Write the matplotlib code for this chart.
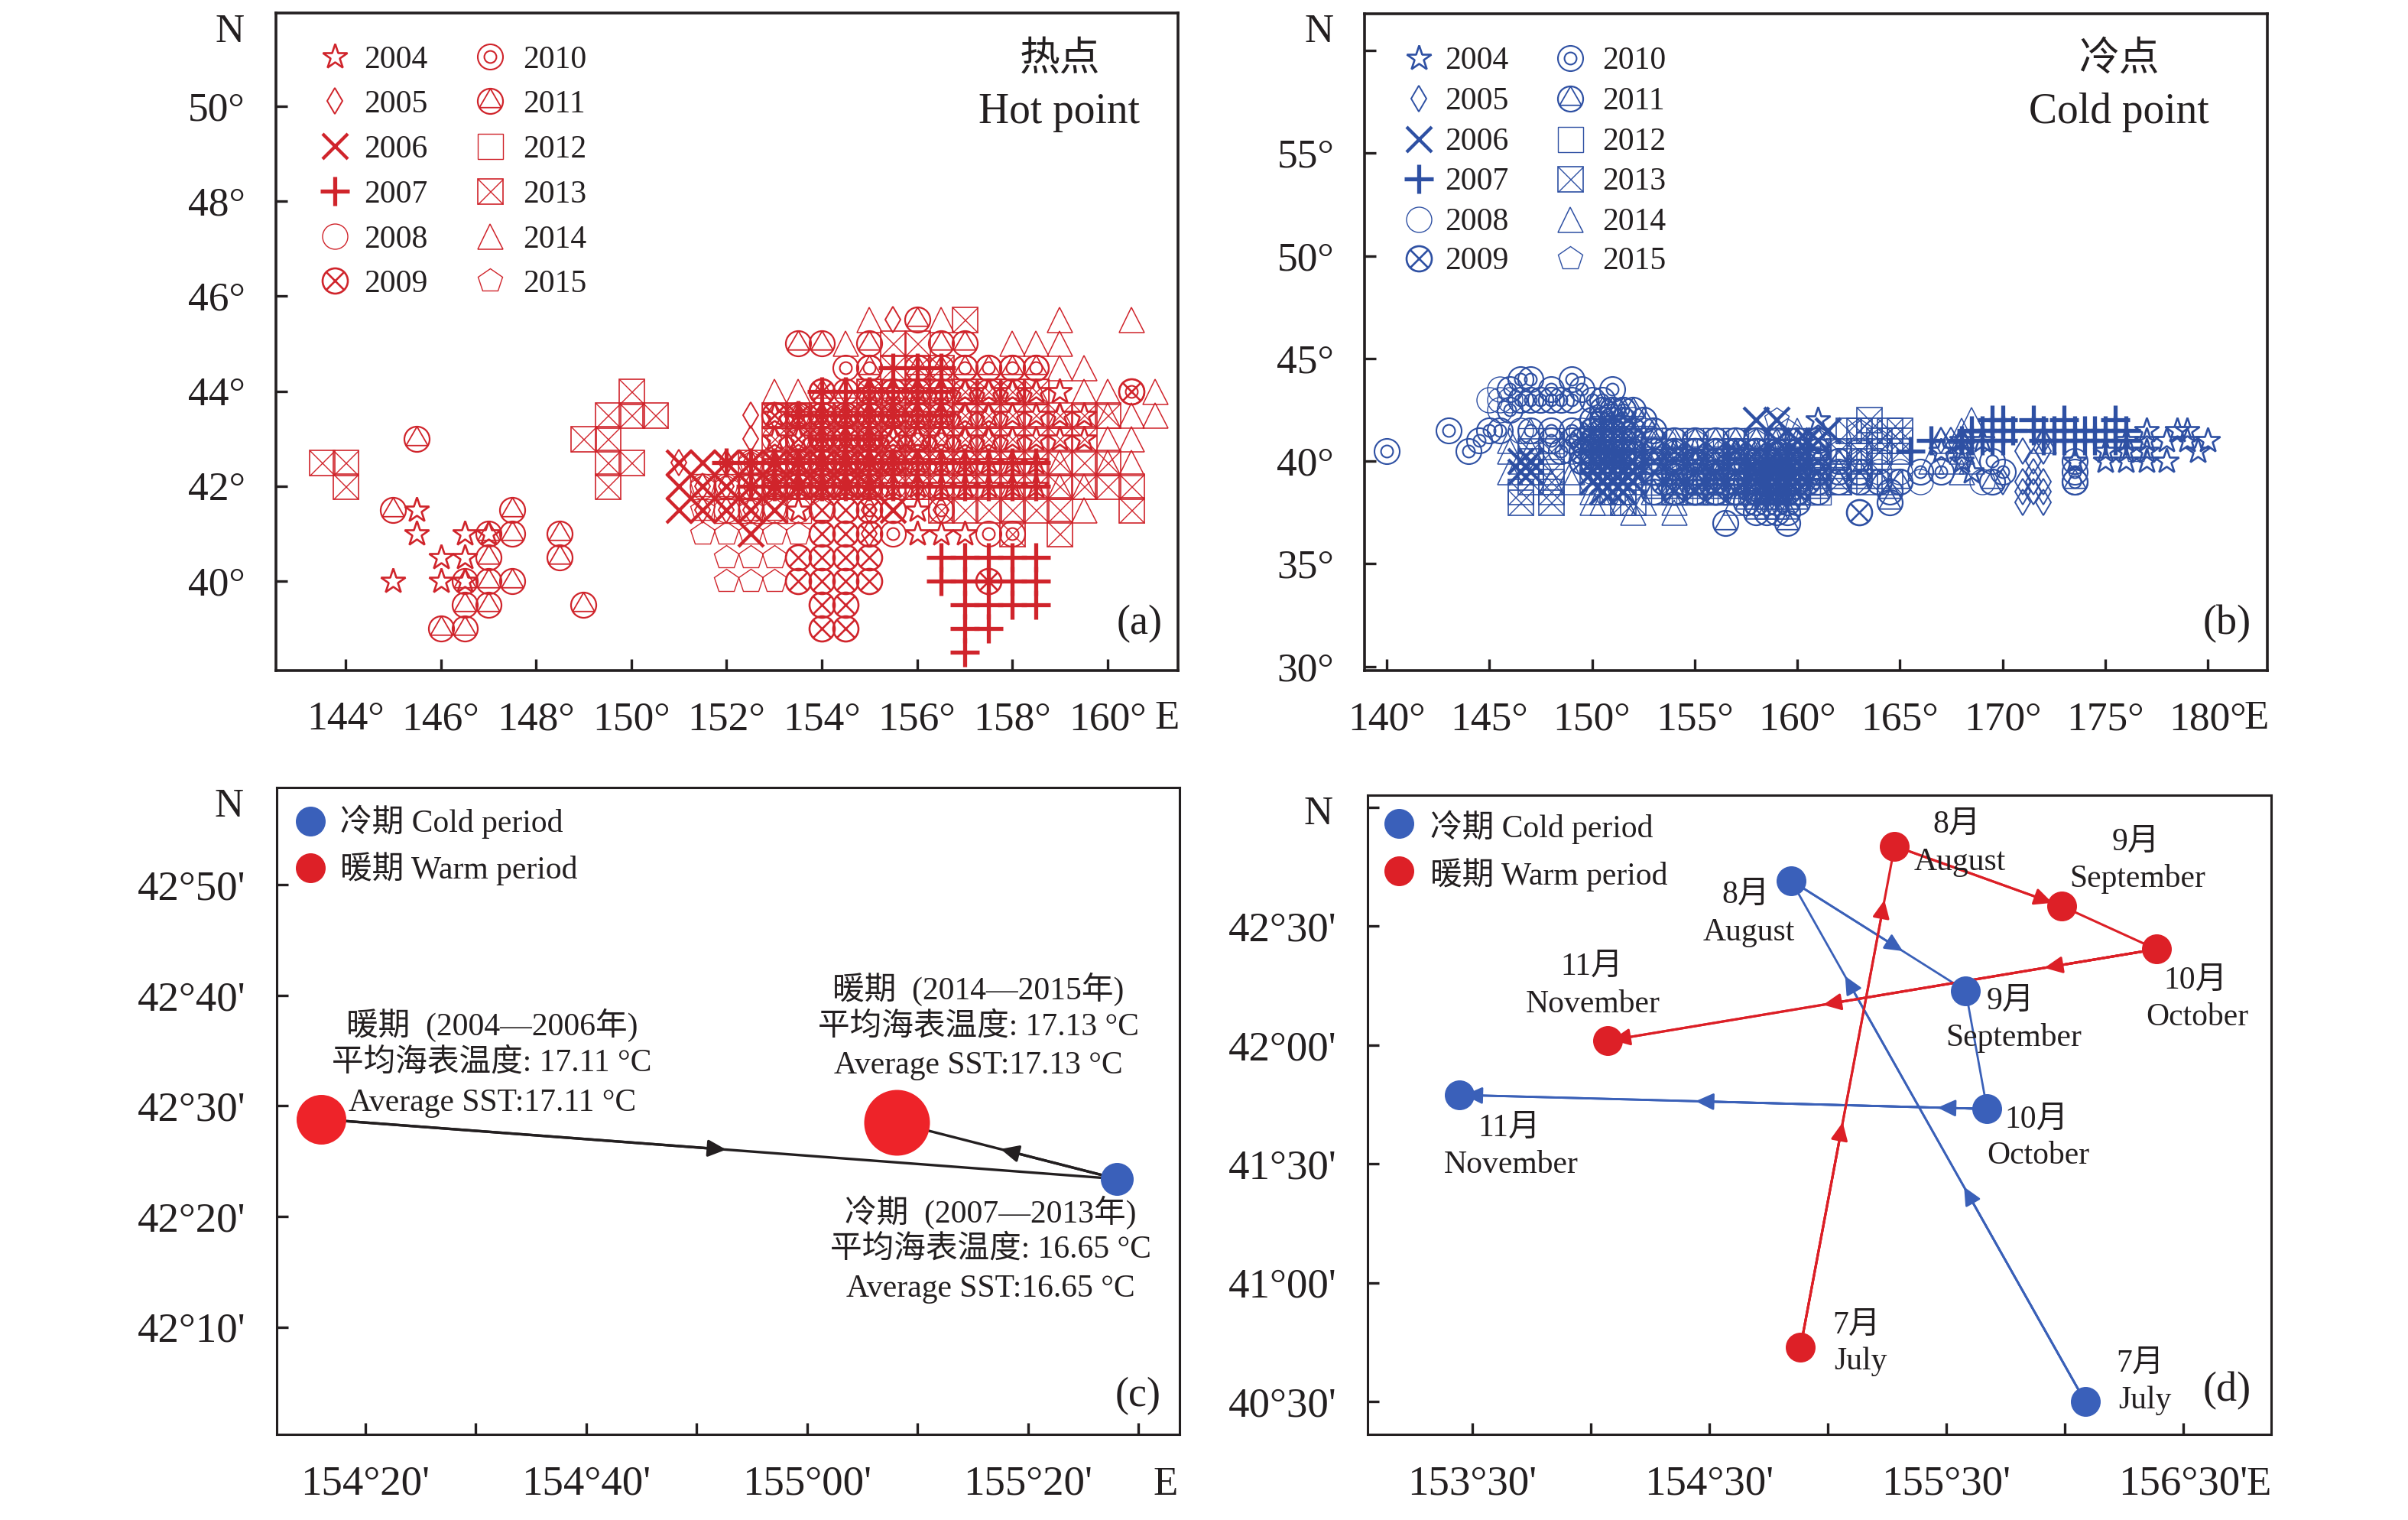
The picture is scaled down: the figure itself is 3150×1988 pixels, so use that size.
import matplotlib
matplotlib.use("Agg")
import matplotlib.pyplot as plt
from matplotlib.path import Path

W, H = 3150, 1988
FONT = ['Liberation Serif', 'Noto Sans CJK SC']
plt.rcParams['font.family'] = FONT
plt.rcParams['axes.unicode_minus'] = False

RED = '#d0242b'
BLUE = '#2e50a3'
LINE_RED = '#dc1f26'
LINE_BLUE = '#3a60b8'
DOT_BLUE = '#3a60ba'
DOT_RED = '#dd2027'
BIG_RED = '#ee2329'
INK = '#231f20'

YEARS = [2004, 2005, 2006, 2007, 2008, 2009, 2010, 2011, 2012, 2013, 2014, 2015]

# ---- panel (a): hot points, latitude -> longitudes per year ----
hot_2004 = {44: [155, 155.5, 156, 156.5, 157, 157.5, 158, 158.5, 159],
            43.5: [153, 153.5, 154, 154.5, 155, 155.5, 156, 156.5, 157, 157.5, 158, 158.5, 159, 159.5],
            43: [153, 153.5, 154, 154.5, 155, 155.5, 156, 156.5, 157, 157.5, 158, 158.5, 159, 159.5],
            42.5: [153, 153.5, 154, 154.5, 155, 155.5, 156, 156.5, 157, 157.5, 158, 158.5],
            42: [153, 153.5, 154, 154.5, 155, 155.5, 156, 156.5, 157, 157.5, 158, 158.5],
            41.5: [145.5, 153.5, 156],
            41: [145.5, 146.5, 147, 156, 156.5, 157],
            40.5: [146, 146.5],
            40: [145, 146, 146.5]}
hot_2005 = {45.5: [155.5],
            44: [154.5, 155, 155.5, 156, 156.5],
            43.5: [152.5, 153, 153.5, 154, 154.5, 155, 155.5, 156, 156.5, 157, 157.5],
            43: [152.5, 153, 153.5, 154, 154.5, 155, 155.5, 156, 156.5, 157, 157.5],
            42.5: [151, 152, 152.5, 153, 153.5, 154, 154.5, 155, 155.5, 156, 156.5],
            42: [151.5, 152, 152.5, 153, 153.5, 154, 154.5, 155, 155.5, 156],
            41.5: [151.5, 152, 152.5, 155, 156.5],
            41: [155]}
hot_2006 = {42.5: [151, 151.5, 152, 152.5, 153, 153.5, 154, 154.5, 155],
            42: [151, 151.5, 152, 152.5, 153, 153.5, 154, 154.5, 155],
            41.5: [151, 151.5, 152, 152.5, 153, 155.5],
            41: [152.5]}
hot_2007 = {44.5: [155.5, 156, 156.5],
            44: [154, 154.5, 155, 155.5, 156, 156.5],
            43.5: [153.5, 154, 154.5, 155, 155.5, 156, 156.5],
            43: [154, 154.5, 155],
            42.5: [152, 152.5, 153, 153.5, 154, 154.5, 155, 155.5, 156, 156.5, 157, 157.5, 158, 158.5],
            42: [152.5, 153, 153.5, 154, 154.5, 155, 155.5, 156, 156.5, 157, 157.5, 158, 158.5],
            40.5: [156.5, 157, 157.5, 158, 158.5],
            40: [156.5, 157, 157.5, 158, 158.5],
            39.5: [157, 157.5, 158, 158.5],
            39: [157, 157.5],
            38.5: [157]}
hot_2008 = {44: [154, 154.5, 155, 155.5],
            43.5: [153, 153.5, 154, 154.5, 155, 155.5, 156, 156.5],
            43: [153, 153.5, 154, 154.5, 155, 155.5, 156],
            42.5: [152.5, 153, 153.5, 154, 154.5, 155, 155.5, 156, 156.5, 157, 157.5],
            42: [151.5, 152, 152.5, 153, 153.5, 154, 154.5, 155, 155.5, 156, 156.5, 157],
            41.5: [152, 152.5, 153, 153.5, 154, 154.5]}
hot_2009 = {44: [160.5, 154],
            43.5: [153, 153.5, 154, 154.5, 155, 155.5],
            43: [153.5, 154, 154.5, 155, 155.5],
            42.5: [153.5, 154, 154.5, 155, 155.5],
            42: [153, 153.5, 154, 154.5, 155],
            41.5: [154, 154.5, 155, 155.5],
            41: [154, 154.5, 155],
            40.5: [153.5, 154, 154.5, 155],
            40: [153.5, 154, 154.5, 155, 157.5],
            39.5: [154, 154.5],
            39: [154, 154.5]}
hot_2010 = {44.5: [154.5, 155, 157, 157.5, 158, 158.5],
            44: [155, 155.5, 156, 160.5],
            43.5: [154, 155, 156],
            43: [154.5, 155, 156, 156.5],
            42.5: [154, 155.5, 157],
            41.5: [155, 156.5],
            41: [155.5, 157.5, 158]}
hot_2011 = {45.5: [156],
            45: [153.5, 154, 155, 156.5, 157],
            44.5: [155, 156, 156.5, 157, 157.5, 158, 158.5],
            44: [154, 154.5, 155, 155.5, 156, 156.5, 157, 157.5, 158],
            43.5: [154, 154.5, 155, 155.5, 156, 156.5],
            43: [145.5, 154, 154.5, 155, 155.5, 156],
            42.5: [154, 154.5, 155, 155.5, 156],
            41.5: [145, 147.5],
            41: [147, 147.5, 148.5],
            40.5: [147, 148.5],
            40: [146.5, 147, 147.5],
            39.5: [146.5, 147, 149],
            39: [146, 146.5]}
hot_2012 = {44: [155, 155.5, 156, 156.5, 157, 157.5, 158, 158.5],
            43.5: [153, 153.5, 154, 156, 157],
            42: [151.5, 152, 152.5],
            41.5: [152, 152.5, 153, 153.5]}
hot_2013 = {45.5: [157],
            45: [155.5, 156],
            44.5: [155.5, 156, 156.5],
            44: [150, 155, 156, 157, 157.5, 158, 158.5],
            43.5: [149.5, 150, 150.5, 153, 153.5, 154, 154.5, 155, 155.5, 156, 156.5, 157, 157.5, 158, 158.5, 159, 159.5, 160],
            43: [149, 149.5, 153, 153.5, 154, 154.5, 155, 155.5, 156, 156.5, 157, 157.5, 158, 158.5, 159, 159.5],
            42.5: [143.5, 144, 149.5, 150, 152.5, 153, 153.5, 154, 154.5, 155, 155.5, 156, 156.5, 157, 157.5, 158, 158.5, 159, 159.5, 160],
            42: [144, 149.5, 152.5, 153, 153.5, 154, 154.5, 155, 155.5, 156, 156.5, 157, 157.5, 158, 158.5, 159, 159.5, 160, 160.5],
            41.5: [156.5, 157, 157.5, 158, 158.5, 159, 160.5],
            41: [158, 159]}
hot_2014 = {45.5: [155, 156.5, 159, 160.5],
            45: [154.5, 158, 158.5, 159],
            44.5: [159, 159.5],
            44: [153, 153.5, 157, 157.5, 158, 158.5, 159.5, 160, 161],
            43.5: [156, 156.5, 157, 157.5, 158, 159, 160, 160.5, 161],
            43: [155.5, 156, 156.5, 157, 157.5, 158, 160, 160.5],
            42.5: [155, 155.5, 156, 157, 158, 159, 160, 160.5],
            42: [153.5, 154.5, 156, 158, 159, 159.5],
            41.5: [159.5]}
hot_2015 = {43.5: [153.5, 154.5, 155.5],
            43: [153.5, 154, 155, 156],
            42.5: [152.5, 153.5, 154.5, 155.5],
            42: [151.5, 152, 153, 154, 155],
            41.5: [151.5, 152.5, 153, 154],
            41: [151.5, 152, 152.5, 153, 153.5],
            40.5: [152, 152.5, 153],
            40: [152, 152.5, 153]}

# ---- panel (b): cold points, latitude -> longitudes per year ----
cold_2004 = {42: [161],
             41.5: [177, 178.5, 179],
             41: [168, 169, 176, 177, 178, 179, 180],
             40.5: [154, 157, 160, 167, 168, 175, 176, 177, 179.5],
             40: [155, 159, 168, 173.5, 175, 176, 177, 178],
             39.5: [156, 158, 168.5]}
cold_2005 = {41: [167, 167.5, 168, 172],
             40.5: [159, 160, 171, 172],
             40: [153, 155, 157, 160, 161, 171.5],
             39.5: [154, 156, 158, 159, 161, 171.5],
             39: [155, 157, 159, 160, 170, 171, 171.5, 172],
             38.5: [171, 171.5, 172],
             38: [171, 172]}
cold_2006 = {42: [158, 159],
             41.5: [161.5],
             41: [159, 160, 160.5, 161],
             40: [146.5, 147, 150, 150.5, 151, 151.5, 152],
             39.5: [146.5, 147, 150, 150.5, 151, 151.5, 152, 158, 158.5, 159, 159.5, 160],
             39: [150, 150.5, 151, 151.5, 152, 158, 158.5, 159, 159.5],
             38.5: [150.5, 151, 151.5, 158.5, 159]}
cold_2007 = {42: [169.5, 170, 171.5, 173, 175.5],
             41.5: [168.5, 169, 169.5, 170, 170.5, 171.5, 172, 172.5, 173, 173.5, 174, 174.5, 175, 175.5, 176],
             41: [166.5, 168, 168.5, 169, 169.5, 170, 172, 172.5, 173, 173.5, 174, 174.5, 175, 175.5, 176],
             40.5: [165.5]}
cold_2008 = {43.5: [145.5],
             43: [145, 145.5, 146, 146.5, 147, 147.5, 148],
             42.5: [145.5, 146, 150.5, 151, 151.5],
             42: [150, 150.5, 151, 151.5, 152, 152.5],
             41.5: [146.5, 149.5, 150, 150.5, 151, 151.5, 152, 152.5, 153],
             41: [149, 149.5, 150, 150.5, 151, 151.5, 152, 152.5, 153, 153.5, 154, 155, 156],
             40.5: [149, 150, 151, 152, 153.5, 155, 156.5, 157, 157.5, 158, 158.5, 159, 160, 162, 163, 164],
             40: [149.5, 150.5, 154, 155.5, 157, 157.5, 158, 158.5, 159, 159.5, 162, 163, 164],
             39.5: [150, 151, 152, 154, 155, 156, 157, 158, 158.5, 159, 160, 163, 164, 165, 166, 167],
             39: [155, 157, 158, 159, 160, 161, 162, 163, 164, 165, 166, 169]}
cold_2009 = {42: [150.5, 151],
             41.5: [150, 150.5, 151, 151.5],
             41: [149.5, 150, 150.5, 151, 151.5, 152],
             40.5: [149.5, 150, 150.5, 151, 151.5, 152, 153, 154, 155, 156, 157, 158, 159, 160],
             40: [149.5, 150, 150.5, 151, 151.5, 152, 153, 154, 155, 156, 157, 158, 158.5, 159, 159.5, 160, 161],
             39.5: [150.5, 151, 151.5, 153, 154, 155, 156, 157, 158, 158.5, 159, 159.5, 160, 161],
             39: [153.5, 154.5, 155.5, 156.5, 157.5, 158, 158.5, 159, 159.5, 160.5],
             38.5: [154, 155, 156, 157, 158, 158.5, 159, 159.5, 160],
             37.5: [163]}
cold_2010 = {44: [146.5, 147, 149],
             43.5: [146, 148, 149.5, 151],
             43: [146.5, 147, 147.5, 148, 148.5, 149, 150, 150.5],
             42.5: [146, 151, 151.5],
             41.5: [143, 145, 145.5, 147, 148, 149],
             41: [144.5, 148, 149, 150],
             40.5: [140, 144, 148.5, 150.5, 151],
             40: [158, 159, 160, 169.5, 173.5],
             39.5: [166, 167, 170, 173.5],
             39: [173.5]}
cold_2011 = {42.5: [150.5, 151, 151.5, 152],
             42: [150, 151.5, 152.5],
             41.5: [150, 151, 152, 153],
             41: [153, 154, 155, 156, 157, 158, 159, 160, 161],
             40.5: [157, 158, 159, 160, 161],
             40: [158, 159, 160, 161, 162],
             39.5: [157, 158, 159, 160, 161, 162, 163],
             39: [155, 156, 157, 158, 159, 160, 161, 162, 163, 164, 165, 169.5, 173.5],
             38.5: [153, 154, 155, 156, 157, 158, 159, 160, 161, 164.5],
             38: [157.5, 158, 158.5, 159, 159.5, 160, 164.5],
             37.5: [158, 158.5, 159, 159.5],
             37: [156.5, 159.5]}
cold_2012 = {41: [147, 148, 153, 154, 155, 156, 157, 158, 159, 160],
             40.5: [153, 153.5, 154, 154.5, 155, 155.5, 156, 156.5, 157, 157.5, 158, 158.5, 159, 159.5, 160, 160.5, 161],
             40: [153, 153.5, 154, 154.5, 155, 155.5, 156, 156.5, 157, 157.5, 158, 158.5, 159, 159.5, 160, 160.5, 161],
             39.5: [153, 153.5, 154, 154.5, 155, 155.5, 156, 156.5, 157, 157.5, 158, 158.5, 159, 159.5, 160, 160.5, 161],
             39: [153, 153.5, 154, 154.5, 155, 155.5, 156, 156.5, 157, 157.5, 158, 158.5, 159, 159.5, 160, 160.5, 161],
             38.5: [153.5, 154, 154.5, 155, 155.5, 156, 156.5, 157, 157.5, 158, 158.5, 159, 159.5, 160, 160.5, 161]}
cold_2013 = {42: [163.5],
             41.5: [162.5, 163, 163.5, 164.5, 165],
             41: [164, 164.5, 165],
             40.5: [147, 148, 162, 163, 164, 165, 153, 155, 157],
             40: [147, 150, 152, 154, 156, 158, 160, 162.5, 163.5],
             39.5: [147, 148, 151, 153, 155, 157, 159, 161, 163],
             39: [147, 148, 150, 152, 154, 156, 158, 160, 162, 163.5, 164.5],
             38.5: [146.5, 148, 151, 151.5, 154, 156, 158, 160],
             38: [146.5, 148, 151.5, 152]}
cold_2014 = {42: [168.5],
             41.5: [147, 159, 160, 168],
             41: [146, 150, 152, 167, 168, 172],
             40.5: [146, 147, 155, 158, 160, 168],
             40: [146.5, 147.5, 153, 157, 159, 166.5, 167.5, 168.5],
             39.5: [146, 149, 152, 156, 160, 168],
             39: [148, 149, 154, 158, 162],
             38.5: [150, 150.5, 151.5, 153, 155, 157, 159],
             38: [150, 150.5, 151.5, 152.5, 154, 157],
             37.5: [152, 154]}
cold_2015 = {42: [159],
             41.5: [159.5, 163],
             41: [155, 158, 161, 164],
             40.5: [154, 156, 159, 162, 176.5],
             40: [155, 157, 160, 163],
             39.5: [154.5, 158, 161],
             39: [156, 159]}

# ---- panel (c) ----
c_warm_lon = [154.267, 155.135]
c_warm_lat = [42.480, 42.475]
c_warm_size = [65, 86]
c_cold_lon = [155.468]
c_cold_lat = [42.390]
c_cold_size = [43]
c_arrow_lon = [154.878, 155.292]
c_arrow_lat = [42.4342, 42.4350]
c_xticks = [154 + 20 / 60, 154 + 30 / 60, 154 + 40 / 60, 154 + 50 / 60, 155.0, 155 + 10 / 60, 155 + 20 / 60, 155 + 30 / 60]
c_xlabels = ["154°20'", '', "154°40'", '', "155°00'", '', "155°20'", '']
c_yticks = [42 + 10 / 60, 42 + 20 / 60, 42.5, 42 + 40 / 60, 42 + 50 / 60]
c_ylabels = ["42°10'", "42°20'", "42°30'", "42°40'", "42°50'"]

# ---- panel (d): July..November ----
d_cold_lon = [156.086, 154.845, 155.582, 155.672, 153.444]
d_cold_lat = [40.500, 42.692, 42.228, 41.731, 41.790]
d_warm_lon = [154.885, 155.282, 155.988, 156.386, 154.070]
d_warm_lat = [40.729, 42.837, 42.584, 42.403, 42.018]
d_cold_tip_lon = [155.575, 155.073, 155.317, 155.463, 154.442, 153.466]
d_cold_tip_lat = [41.403, 42.290, 42.395, 41.7365, 41.7636, 41.7894]
d_cold_tip_seg = [0, 0, 1, 3, 3, 3]
d_warm_tip_lon = [155.063, 155.239, 155.948, 155.914, 154.980, 154.089]
d_warm_tip_lat = [41.675, 42.610, 42.598, 42.3245, 42.169, 42.021]
d_warm_tip_seg = [0, 0, 1, 3, 3, 3]
d_xticks = [153.5, 154.0, 154.5, 155.0, 155.5, 156.0, 156.5]
d_xlabels = ["153°30'", '', "154°30'", '', "155°30'", '', "156°30'"]
d_yticks = [40.5, 41.0, 41.5, 42.0, 42.5, 43.0]
d_ylabels = ["40°30'", "41°00'", "41°30'", "42°00'", "42°30'", '']

a_xticks = [144, 146, 148, 150, 152, 154, 156, 158, 160]
a_yticks = [40, 42, 44, 46, 48, 50]
b_xticks = [140, 145, 150, 155, 160, 165, 170, 175, 180]
b_yticks = [30, 35, 40, 45, 50, 55, 60]
b_ylabels = ['30°', '35°', '40°', '45°', '50°', '55°', '']


def fx(x):
    return x / W


def fy(y):
    return 1 - y / H


PT = 0.72
MS = 33 * PT
TRI_IN_CIRCLE = Path([(0, 1), (-0.87, -0.5), (0.87, -0.5), (0, 1)], closed=True)
# each year: layers of (marker, size, line width)
STYLES = {
    2004: [('*', 1.05 * MS, 1.9)],
    2005: [('d', 0.72 * MS, 1.4)],
    2006: [('x', 1.0 * MS, 3.1)],
    2007: [('+', 1.15 * MS, 3.8)],
    2008: [('o', MS, 1.0)],
    2009: [('o', MS, 1.9), ('x', 0.72 * MS, 1.9)],
    2010: [('o', MS, 1.5), ('o', 0.48 * MS, 1.5)],
    2011: [('o', MS, 1.6), (TRI_IN_CIRCLE, MS, 1.3)],
    2012: [('s', MS, 1.0)],
    2013: [('s', MS, 1.2), ('x', MS, 1.0)],
    2014: [('^', MS, 1.1)],
    2015: [('p', MS, 1.0)],
}


def draw_year(ax, rows, year, color):
    lons = [v for lat in rows for v in rows[lat]]
    lats = [lat for lat in rows for _ in rows[lat]]
    for m, s, lw in STYLES[year]:
        ax.plot(lons, lats, ls='none', marker=m, ms=s, mfc='none', mec=color, mew=lw, clip_on=False, zorder=3)


def legend_mark(fig, x, y, year, color):
    for m, s, lw in STYLES[year]:
        fig.add_artist(plt.Line2D([fx(x)], [fy(y)], transform=fig.transFigure, ls='none', marker=m,
                                  ms=s, mfc='none', mec=color, mew=lw))


def frame(fig, l, r, t, b, lw=2.6, labelsize=38.5):
    ax = fig.add_axes([fx(l), fy(b), fx(r - l), (b - t) / H])
    for s in ax.spines.values():
        s.set_linewidth(lw)
        s.set_color(INK)
    ax.tick_params(direction='in', length=15 * PT, width=2.4, colors=INK, labelsize=labelsize, pad=29)
    return ax


def label(fig, x, y, s, size=30, ha='center', dy=4):
    fig.text(fx(x), fy(y + dy), s, fontsize=size, ha=ha, va='center', color=INK, family=FONT)


fig = plt.figure(figsize=(W / 100, H / 100), dpi=100, facecolor='white')

# (a)
ax = frame(fig, 361, 1541, 17, 877)
ax.set_xlim(142.54, 161.48)
ax.set_ylim(38.12, 51.96)
ax.set_xticks(a_xticks, [f'{v}°' for v in a_xticks])
ax.set_yticks(a_yticks, [f'{v}°' for v in a_yticks])
hot = [hot_2004, hot_2005, hot_2006, hot_2007, hot_2008, hot_2009,
       hot_2010, hot_2011, hot_2012, hot_2013, hot_2014, hot_2015]
for yr, rows in zip(YEARS, hot):
    draw_year(ax, rows, yr, RED)
rows_a = [72, 130, 189, 248, 307, 365]
for i, yr in enumerate(YEARS):
    r = rows_a[i % 6]
    mx, tx = (438, 476) if i < 6 else (641, 684)
    legend_mark(fig, mx, r + 2, yr, RED)
    label(fig, tx, r + 3, str(yr), 30, 'left')
label(fig, 1386, 74, '热点', 38)
label(fig, 1386, 143, 'Hot point', 40)
label(fig, 301, 38, 'N', 38)
label(fig, 1527, 936, 'E', 38)
label(fig, 1491, 812, '(a)', 39)

# (b)
ax = frame(fig, 1785.5, 2966, 18, 877)
ax.set_xlim(138.94, 182.9)
ax.set_ylim(29.8, 61.79)
ax.set_xticks(b_xticks, [f'{v}°' for v in b_xticks])
ax.set_yticks(b_yticks, b_ylabels)
cold = [cold_2004, cold_2005, cold_2006, cold_2007, cold_2008, cold_2009,
        cold_2010, cold_2011, cold_2012, cold_2013, cold_2014, cold_2015]
for yr, rows in zip(YEARS, cold):
    draw_year(ax, rows, yr, BLUE)
rows_b = [76, 129, 182, 234, 287, 338]
for i, yr in enumerate(YEARS):
    r = rows_b[i % 6]
    mx, tx = (1856, 1890) if i < 6 else (2054, 2096)
    legend_mark(fig, mx, r, yr, BLUE)
    label(fig, tx, r, str(yr), 30, 'left')
label(fig, 2772, 74, '冷点', 38)
label(fig, 2772, 143, 'Cold point', 40)
label(fig, 1726, 38, 'N', 38)
label(fig, 2952, 936, 'E', 38)
label(fig, 2913, 812, '(b)', 39)


def arrow(ax, start, tip, color, lw):
    ax.annotate('', xy=tip, xytext=start,
                arrowprops=dict(arrowstyle='-|>,head_length=1,head_width=0.47', mutation_scale=14.4,
                                color=color, lw=lw, shrinkA=0, shrinkB=0), zorder=2)


def dot(ax, x, y, d, color):
    ax.plot([x], [y], ls='none', marker='o', ms=d * PT, mfc=color, mec=color, mew=0, zorder=4)


def legend_periods(fig, mx, tx, y1, y2, dy):
    for y, c, s in [(y1, DOT_BLUE, '冷期 Cold period'), (y2, DOT_RED, '暖期 Warm period')]:
        fig.add_artist(plt.Line2D([fx(mx)], [fy(y)], transform=fig.transFigure, ls='none', marker='o',
                                  ms=39 * PT, mfc=c, mec=c, mew=0))
        label(fig, tx, y, s, 30, 'left', dy)


# (c)
ax = frame(fig, 362, 1543, 1030, 1876, 2.2, 39.5)
ax.set_xlim(154.2, 155.562)
ax.set_ylim(42.005, 42.98)
ax.set_xticks(c_xticks, c_xlabels)
ax.set_yticks(c_yticks, c_ylabels)
ax.plot([c_warm_lon[0], c_cold_lon[0]], [c_warm_lat[0], c_cold_lat[0]], color=INK, lw=2.4, zorder=2)
ax.plot([c_cold_lon[0], c_warm_lon[1]], [c_cold_lat[0], c_warm_lat[1]], color=INK, lw=2.4, zorder=2)
arrow(ax, (c_warm_lon[0], c_warm_lat[0]), (c_arrow_lon[0], c_arrow_lat[0]), INK, 2.4)
arrow(ax, (c_cold_lon[0], c_cold_lat[0]), (c_arrow_lon[1], c_arrow_lat[1]), INK, 2.4)
for x, y, d in zip(c_warm_lon, c_warm_lat, c_warm_size):
    dot(ax, x, y, d, BIG_RED)
for x, y, d in zip(c_cold_lon, c_cold_lat, c_cold_size):
    dot(ax, x, y, d, DOT_BLUE)
legend_periods(fig, 406, 445, 1074, 1135, 1)
cx = lambda z: 280 + z / 1.2155
cy = lambda z: 1010 + z / 1.6
c_notes = [(442, 528, '暖期  (2004—2006年)'), (442, 607, '平均海表温度: 17.11 °C'), (442, 690, 'Average SST:17.11 °C'),
           (1215, 452, '暖期  (2014—2015年)'), (1215, 531, '平均海表温度: 17.13 °C'), (1215, 613, 'Average SST:17.13 °C'),
           (1235, 920, '冷期  (2007—2013年)'), (1235, 998, '平均海表温度: 16.65 °C'), (1235, 1080, 'Average SST:16.65 °C')]
for zx, zy, s in c_notes:
    label(fig, cx(zx), cy(zy), s, 30, dy=1)
label(fig, 300, 1051, 'N', 38)
label(fig, 1525, 1938, 'E', 38)
label(fig, 1489, 1822, '(c)', 39)

# (d)
ax = frame(fig, 1789, 2971, 1040, 1876, 2.2, 39.5)
ax.set_xlim(153.058, 156.871)
ax.set_ylim(40.362, 43.051)
ax.set_xticks(d_xticks, d_xlabels)
ax.set_yticks(d_yticks, d_ylabels)
ax.plot(d_cold_lon, d_cold_lat, color=LINE_BLUE, lw=2.0, zorder=2)
ax.plot(d_warm_lon, d_warm_lat, color=LINE_RED, lw=2.2, zorder=2)
for x, y, seg in zip(d_cold_tip_lon, d_cold_tip_lat, d_cold_tip_seg):
    arrow(ax, (d_cold_lon[seg], d_cold_lat[seg]), (x, y), LINE_BLUE, 2.0)
for x, y, seg in zip(d_warm_tip_lon, d_warm_tip_lat, d_warm_tip_seg):
    arrow(ax, (d_warm_lon[seg], d_warm_lat[seg]), (x, y), LINE_RED, 2.2)
for x, y in zip(d_cold_lon, d_cold_lat):
    dot(ax, x, y, 39, DOT_BLUE)
for x, y in zip(d_warm_lon, d_warm_lat):
    dot(ax, x, y, 39, DOT_RED)
legend_periods(fig, 1830, 1871, 1077, 1139, 5)
dx = lambda z: 1700 + z / 1.2155
d_notes = [(1045, 100, '8月'), (1050, 185, 'August'), (1330, 137, '9月'), (1333, 220, 'September'),
           (710, 247, '8月'), (714, 332, 'August'), (465, 398, '11月'), (466, 482, 'November'),
           (1425, 427, '10月'), (1427, 510, 'October'), (1130, 470, '9月'), (1135, 553, 'September'),
           (1172, 717, '10月'), (1175, 800, 'October'), (333, 735, '11月'), (336, 819, 'November'),
           (885, 1148, '7月'), (892, 1230, 'July'), (1336, 1228, '7月'), (1344, 1312, 'July')]
for zx, zy, s in d_notes:
    label(fig, dx(zx), cy(zy), s, 30, dy=2 if s[0].isalpha() else 6)
label(fig, 1725, 1061, 'N', 38)
label(fig, 2955, 1938, 'E', 38)
label(fig, 2913, 1815, '(d)', 39)

fig.savefig('out.png', dpi=100)
